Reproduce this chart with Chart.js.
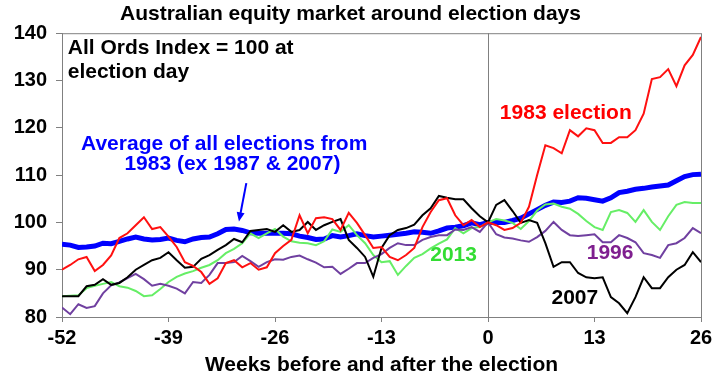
<!DOCTYPE html>
<html>
<head>
<meta charset="utf-8">
<script src="https://cdn.jsdelivr.net/npm/chart.js@4.4.1/dist/chart.umd.min.js"></script>
<style>
  html, body { margin: 0; padding: 0; background: #fff; }
</style>
</head>
<body>
<canvas id="electionchart" width="720" height="377"></canvas>
<script>
// weeks relative to election day
const weeks = Array.from({ length: 79 }, (_, i) => i - 52);
const xTicks = [-52, -39, -26, -13, 0, 13, 26];
const yTicks = [80, 90, 100, 110, 120, 130, 140];

const election1983 = [
  90, 91, 92.2, 92.7, 89.7, 91, 93, 96.7, 97.7, 99.4,
  101.1, 98.6, 99, 97, 94.8, 91.6, 90.8, 89.5, 87, 88.2,
  91.4, 92, 90.5, 91.4, 90, 90.5, 93.5, 95, 96.3, 101.5,
  97.7, 100.9, 101.1, 100.7, 98.4, 102, 99.9, 97.3, 94.6, 94.8,
  92.7, 92, 93.1, 94.6, 99, 102.2, 104.7, 105.1, 101.5, 99.4,
  100.5, 99, 100,
  99.4, 98.4, 98.8, 99.9, 103.3, 110, 116.3, 115.7, 114.6, 119.5,
  118.2, 119.9, 119.5, 116.8, 116.8, 118, 118, 119.5, 123, 130.3,
  130.7, 132.4, 128.8, 133.2, 135.4, 139.2
];
const election2007 = [
  84.4, 84.4, 84.4, 86.5, 86.8, 88, 86.8, 87.2, 88.4, 90,
  91, 92, 92.5, 93.7, 92, 90.4, 90.6, 92.3, 93.1, 94.2,
  95.2, 96.5, 95.8, 98.2, 98.4, 98.6, 98, 99.4, 98, 98.4,
  100.1, 98.4, 99.4, 100.1, 100.7, 96.3, 94.6, 92.7, 88.5, 94.6,
  97.3, 98.4, 98.8, 99.5, 101.5, 103, 105.6, 105.2, 104.9, 104.9,
  103, 101.3, 100,
  103.7, 104.7, 102.4, 99.9, 100.5, 99.9, 95.6, 90.6, 91.6, 91.6,
  89.3, 88.4, 88.2, 88.4, 84.2, 82.9, 80.8, 84.2, 88.4, 86.1,
  86.1, 88.4, 90, 91, 93.7, 91.6
];
const election2013 = [
  84.4, 84.5, 84.6, 86.1, 86.6, 87, 87.4, 86.5, 86.2, 85.5,
  84.4, 84.6, 85.9, 87.4, 88.5, 89.2, 89.7, 90.4, 91, 92,
  93.5, 94.4, 95.6, 97.7, 96.7, 97.7, 98.6, 97, 96, 95.7,
  95.6, 95.2, 96, 98.5, 98, 99.4, 97.3, 95.6, 93.1, 91.6,
  91.8, 88.9, 90.8, 92.5, 93.3, 94.5, 95.5, 96.4, 98.8, 97.7,
  98.8, 99, 100,
  100.7, 100.4, 99.9, 98.6, 100.3, 102.5, 103.8, 104, 103.3, 102.9,
  101.8, 100.3, 99, 98.4, 102.2, 102.6, 102, 100.1, 102.6, 100.1,
  98.4, 101.3, 103.7, 104.3, 104.1, 104.1
];
const election1996 = [
  82, 80.6, 82.7, 81.9, 82.3, 85, 86.7, 87.3, 88.2, 89.1,
  88, 86.6, 87, 86.6, 86, 85, 87.4, 87.2, 88.9, 91.4,
  91.4, 91.6, 92.9, 91.8, 90.6, 91.6, 92.2, 92.1, 92.7, 93,
  92.2, 91.5, 90.5, 90.6, 89.1, 90.2, 91.4, 91.4, 92.5, 93.3,
  94.6, 95.6, 95.2, 95.2, 96.3, 96.9, 97.3, 97.3, 98.5, 98.4,
  99, 98, 100,
  97.5, 96.8, 96.6, 96.2, 95.9, 96.9, 98.2, 100.1, 98.4, 97.3,
  97.1, 97.3, 97.5, 95.8, 95.8, 97.3, 96.7, 95.8, 93.5, 93.1,
  92.5, 95.2, 95.6, 96.7, 98.8, 97.7
];
const averageAll = [
  95.4, 95.2, 94.7, 94.8, 95, 95.6, 95.5, 96, 96.5, 96.9,
  96.5, 96.3, 96.4, 96.7, 96.2, 95.9, 96.5, 96.8, 96.9, 97.6,
  98.5, 98.6, 98.3, 97.8, 97.7, 97.7, 97.7, 97.7, 97.6, 97.1,
  96.8, 96.4, 96.5, 97.2, 96.9, 97.2, 97.6, 97.2, 96.9, 97.1,
  97.3, 97.5, 97.7, 98, 97.9, 97.7, 98.2, 98.8, 99, 99.3,
  99.9, 99.5, 100,
  100, 100, 100.4, 100.9, 101.8, 102.7, 103.6, 104.3, 104.2, 104.5,
  105.2, 105.1, 104.8, 104.5, 105.2, 106.3, 106.6, 107, 107.2, 107.5,
  107.7, 107.9, 108.8, 109.7, 110.1, 110.2
];

const toPoints = (vals) => vals.map((v, i) => ({ x: weeks[i], y: v }));

Chart.defaults.font.family = "'Liberation Sans', Arial, sans-serif";
Chart.defaults.color = '#000';

// frame, election-day line and the text labels
const decorations = {
  id: 'decorations',
  beforeDatasetsDraw(chart) {
    const { ctx, chartArea: a, scales: { x } } = chart;
    ctx.save();
    ctx.strokeStyle = '#808080';
    ctx.lineWidth = 1;
    ctx.strokeRect(a.left + 0.5, a.top + 0.5, a.right - a.left, a.bottom - a.top);
    const x0 = Math.round(x.getPixelForValue(0)) + 0.5;
    ctx.beginPath();
    ctx.moveTo(x0, a.top);
    ctx.lineTo(x0, a.bottom);
    ctx.stroke();
    ctx.restore();
  },
  afterDatasetsDraw(chart) {
    const { ctx, scales: { x, y } } = chart;
    const put = (txt, wx, wy, color, align) => {
      ctx.fillStyle = color;
      ctx.textAlign = align;
      ctx.fillText(txt, x.getPixelForValue(wx), y.getPixelForValue(wy));
    };
    ctx.save();
    ctx.font = "bold 21px 'Liberation Sans', Arial, sans-serif";
    ctx.textBaseline = 'middle';
    put('All Ords Index = 100 at', -51.3, 136.8, '#000', 'left');
    put('election day', -51.3, 131.7, '#000', 'left');
    put('Average of all elections from', -32.2, 116.6, '#0000ff', 'center');
    put('1983 (ex 1987 & 2007)', -31.2, 112.2, '#0000ff', 'center');
    put('1983 election', 9.5, 123.1, '#ff0000', 'center');
    put('2013', -4.2, 93.1, '#33dd33', 'center');
    put('1996', 14.9, 93.5, '#7f1f8f', 'center');
    put('2007', 10.6, 84, '#000', 'center');

    // arrow to the average line
    const sx = x.getPixelForValue(-29.5), sy = y.getPixelForValue(108.3);
    const ex = x.getPixelForValue(-30.4), ey = y.getPixelForValue(100.2);
    const ang = Math.atan2(ey - sy, ex - sx);
    ctx.strokeStyle = '#0000ff';
    ctx.fillStyle = '#0000ff';
    ctx.lineWidth = 2;
    ctx.beginPath();
    ctx.moveTo(sx, sy);
    ctx.lineTo(ex - 6 * Math.cos(ang), ey - 6 * Math.sin(ang));
    ctx.stroke();
    ctx.beginPath();
    ctx.moveTo(ex, ey);
    ctx.lineTo(ex - 9 * Math.cos(ang) + 4 * Math.sin(ang), ey - 9 * Math.sin(ang) - 4 * Math.cos(ang));
    ctx.lineTo(ex - 9 * Math.cos(ang) - 4 * Math.sin(ang), ey - 9 * Math.sin(ang) + 4 * Math.cos(ang));
    ctx.closePath();
    ctx.fill();
    ctx.restore();
  }
};

const line = (label, vals, color, width) => ({
  label: label,
  data: toPoints(vals),
  borderColor: color,
  borderWidth: width,
  pointRadius: 0,
  tension: 0,
  fill: false
});

const config = {
  type: 'line',
  data: {
    datasets: [
      line('1983', election1983, '#ff1010', 2),
      line('2007', election2007, '#000000', 2),
      line('1996', election1996, '#7040a0', 2),
      line('2013', election2013, '#66ee66', 2),
      line('Average', averageAll, '#0000ff', 5)
    ]
  },
  options: {
    responsive: false,
    animation: false,
    layout: { padding: { left: 0, right: 19, top: 0, bottom: 0 } },
    plugins: {
      legend: { display: false },
      tooltip: { enabled: false },
      title: {
        display: true,
        text: 'Australian equity market around election days',
        font: { size: 21, weight: 'bold' },
        color: '#000',
        padding: { top: 2, bottom: 6 }
      }
    },
    scales: {
      x: {
        type: 'linear',
        min: -52,
        max: 26,
        afterBuildTicks: (s) => { s.ticks = xTicks.map(v => ({ value: v })); },
        afterFit: (s) => { s.height = 60; },
        ticks: { font: { size: 20, weight: 'bold' }, color: '#000', padding: 4, maxRotation: 0 },
        grid: { drawOnChartArea: false, drawTicks: true, tickLength: 5, color: '#808080' },
        border: { color: '#808080' },
        title: {
          display: true,
          text: 'Weeks before and after the election',
          font: { size: 21, weight: 'bold' },
          color: '#000',
          padding: { top: 0, bottom: -1 }
        }
      },
      y: {
        min: 80,
        max: 140,
        afterBuildTicks: (s) => { s.ticks = yTicks.map(v => ({ value: v })); },
        afterFit: (s) => { s.width = 62; },
        ticks: { font: { size: 20, weight: 'bold' }, color: '#000', padding: 9 },
        grid: { drawOnChartArea: false, drawTicks: true, tickLength: 6, color: '#808080' },
        border: { color: '#808080' }
      }
    }
  },
  plugins: [decorations]
};

const electionChart = new Chart(document.getElementById('electionchart'), config);
</script>
</body>
</html>
